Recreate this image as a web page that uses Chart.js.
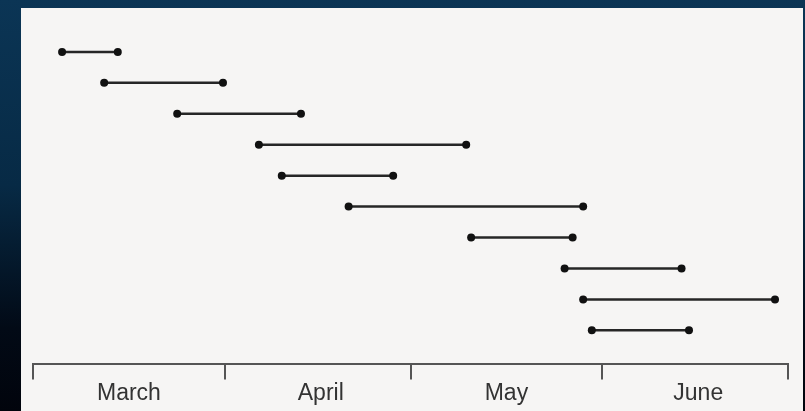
<!DOCTYPE html>
<html>
<head>
<meta charset="utf-8">
<script src="https://cdn.jsdelivr.net/npm/chart.js@4"></script>
<style>
  html, body { margin: 0; padding: 0; }
  body {
    width: 805px; height: 411px; overflow: hidden; position: relative;
    background: linear-gradient(to bottom, #0b3555 0%, #072a45 45%, #020a16 80%, #01040c 100%);
  }
  #paper { position: absolute; left: 21px; top: 8px; width: 782px; height: 403px; background: #f6f5f4; }
  #chart { position: absolute; left: 0; top: 0; }
</style>
</head>
<body>
<div id="paper"></div>
<canvas id="chart" width="805" height="411"></canvas>
<script>
// days counted from 1 March
const months = ['March', 'April', 'May', 'June'];
const monthEdges = [0, 31, 61, 92, 122];
const monthMids = [15.5, 46.5, 76.5, 107.5];
const starts = [4.7, 11.5, 23.3, 36.5, 40.2, 51.0, 70.8, 85.9, 88.9, 90.3];
const ends = [13.7, 30.7, 43.3, 70.0, 58.2, 88.9, 87.2, 104.8, 119.9, 106.0];

const datasets = starts.map((s, i) => ({
    data: [{ x: s, y: i + 1 }, { x: ends[i], y: i + 1 }],
    showLine: true,
    borderColor: '#262626',
    borderWidth: 2.5,
    pointRadius: 4,
    pointBackgroundColor: '#111',
    pointBorderWidth: 0,
}));

const axisTicks = monthEdges.concat(monthMids).sort((a, b) => a - b);

new Chart(document.getElementById('chart').getContext('2d'), {
    type: 'scatter',
    data: { datasets },
    options: {
        responsive: false,
        animation: false,
        devicePixelRatio: 1,
        layout: { padding: { left: 33, right: 17, top: 21, bottom: 4 } },
        plugins: { legend: { display: false }, tooltip: { enabled: false } },
        scales: {
            x: {
                type: 'linear',
                min: 0,
                max: 122,
                afterBuildTicks: s => { s.ticks = axisTicks.map(v => ({ value: v })); },
                border: { color: '#555', width: 2 },
                grid: {
                    drawOnChartArea: false,
                    tickLength: 15,
                    lineWidth: 2,
                    tickColor: c => monthEdges.includes(c.tick && c.tick.value) ? '#555' : 'rgba(0,0,0,0)',
                },
                ticks: {
                    autoSkip: false,
                    maxRotation: 0,
                    padding: 0,
                    color: '#333',
                    font: { family: 'Liberation Sans, Arial, sans-serif', size: 23 },
                    callback: v => {
                        const k = monthMids.indexOf(v);
                        return k >= 0 ? months[k] : '';
                    },
                },
            },
            y: {
                display: false,
                reverse: true,
                min: 0,
                max: 11.1,
            },
        },
    },
});
</script>
</body>
</html>
